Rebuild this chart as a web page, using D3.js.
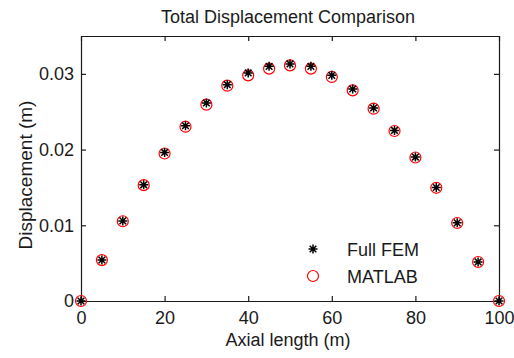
<!DOCTYPE html>
<html><head><meta charset="utf-8">
<script src="https://cdn.jsdelivr.net/npm/d3@7"></script>
<style>
html,body{margin:0;padding:0;background:#fff;}
text{font-family:"Liberation Sans",Arial,sans-serif;fill:#1a1a1a;}
</style></head>
<body>
<script>
const axialLength = [0,5,10,15,20,25,30,35,40,45,50,55,60,65,70,75,80,85,90,95,100];
const fullFEM = [0,0.00542,0.01058,0.01534,0.01962,0.02315,0.02615,0.02857,0.03012,0.03099,0.03131,0.03099,0.02980,0.02800,0.02549,0.02253,0.01901,0.01499,0.01032,0.00516,0];
const matlab  = [0,0.00540,0.01053,0.01530,0.01948,0.02302,0.02593,0.02844,0.02980,0.03069,0.03112,0.03069,0.02959,0.02782,0.02540,0.02245,0.01895,0.01495,0.01030,0.00515,0];
const xTicks = [0,20,40,60,80,100];
const yTicks = [0,0.01,0.02,0.03];
const yTickLabels = ["0","0.01","0.02","0.03"];
const title = "Total Displacement Comparison";
const xLabel = "Axial length (m)";
const yLabel = "Displacement (m)";
const legendLabels = ["Full FEM","MATLAB"];

const W=514,H=358;
const m={left:81,right:499,top:36,bottom:301};
const svg=d3.select("body").append("svg").attr("width",W).attr("height",H);
const x=d3.scaleLinear().domain([0,100]).range([m.left,m.right]);
const y=d3.scaleLinear().domain([0,0.035]).range([m.bottom,m.top]);
const fs=18;

const axB=d3.axisBottom(x).tickValues(xTicks).tickSizeInner(-5).tickSizeOuter(0).tickPadding(10);
const axT=d3.axisTop(x).tickValues(xTicks).tickSizeInner(-5).tickSizeOuter(0).tickFormat("");
const axL=d3.axisLeft(y).tickValues(yTicks).tickSizeInner(-5).tickSizeOuter(0).tickPadding(7).tickFormat((d,i)=>yTickLabels[i]);
const axR=d3.axisRight(y).tickValues(yTicks).tickSizeInner(-5).tickSizeOuter(0).tickFormat("");
function style(g){
  g.select(".domain").attr("stroke","#1a1a1a").attr("stroke-width",1.2);
  g.selectAll(".tick line").attr("stroke","#1a1a1a").attr("stroke-width",1.2);
  g.selectAll(".tick text").attr("font-size",fs).attr("font-family","Liberation Sans, Arial, sans-serif").attr("fill","#1a1a1a");
}
svg.append("g").attr("transform",`translate(0,${m.bottom})`).call(axB).call(style);
svg.append("g").attr("transform",`translate(0,${m.top})`).call(axT).call(style);
svg.append("g").attr("transform",`translate(${m.left},0)`).call(axL).call(style);
svg.append("g").attr("transform",`translate(${m.right},0)`).call(axR).call(style);

// title & labels
svg.append("text").attr("x",(m.left+m.right)/2-2).attr("y",23).attr("text-anchor","middle").attr("font-size",fs).text(title);
svg.append("text").attr("x",(m.left+m.right)/2-2).attr("y",346).attr("text-anchor","middle").attr("font-size",fs).text(xLabel);
svg.append("text").attr("transform",`translate(32,175) rotate(-90)`).attr("text-anchor","middle").attr("font-size",fs+1).text(yLabel);

// markers
function star(g,cx,cy){
  const s=4.5, d=3.3;
  g.append("path").attr("d",`M${cx-s},${cy}H${cx+s}M${cx},${cy-s}V${cy+s}M${cx-d},${cy-d}L${cx+d},${cy+d}M${cx-d},${cy+d}L${cx+d},${cy-d}`)
   .attr("stroke","#000").attr("stroke-width",1.5).attr("fill","none");
}
const circ=svg.append("g");
circ.selectAll("circle").data(axialLength).join("circle")
  .attr("cx",(d)=>x(d)).attr("cy",(d,i)=>y(matlab[i])).attr("r",5.5)
  .attr("fill","none").attr("stroke","#ff0000").attr("stroke-width",1.2);
const stars=svg.append("g");
axialLength.forEach((d,i)=>star(stars,x(d),y(fullFEM[i])));

// legend
const lg=svg.append("g");
star(lg,313,249);
lg.append("circle").attr("cx",313).attr("cy",276).attr("r",5.5).attr("fill","none").attr("stroke","#ff0000").attr("stroke-width",1.2);
lg.append("text").attr("x",347).attr("y",256).attr("font-size",fs).text(legendLabels[0]);
lg.append("text").attr("x",347).attr("y",283).attr("font-size",fs).text(legendLabels[1]);
</script>
</body></html>
